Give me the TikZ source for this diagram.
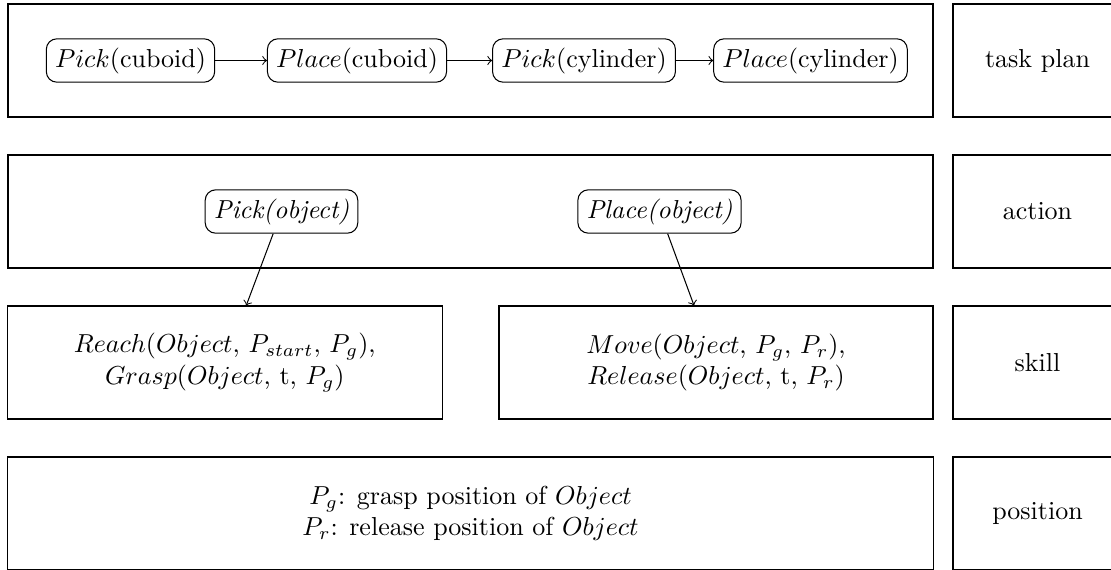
\documentclass[tikz,border=0pt]{standalone}
\usetikzlibrary{calc}
\begin{document}
\begin{tikzpicture}[x=0.3846pt,y=-0.3846pt,
  lay/.style={draw, line width=0.4pt, inner sep=0pt, align=center, minimum height={113*0.3846pt}},
  act/.style={draw, rounded corners=4pt, inner sep=3.33pt},
  >=to]
\clip (0,0) rectangle (1111,569);
% layer boxes
\node[lay, minimum width={925*0.3846pt}] (planbox) at (470.5,60.5) {};
\node[lay, minimum width={169*0.3846pt}] (planlbl) at (1037.5,60.5) {task plan};
\node[lay, minimum width={925*0.3846pt}] (actbox) at (470.5,211.5) {};
\node[lay, minimum width={169*0.3846pt}] (actlbl) at (1037.5,211.5) {action};
\node[lay, minimum width={435*0.3846pt}] (skill1) at (224.75,362.5)
  {$Reach(Object$, $P_{start}$, $P_g)$,\\ $Grasp(Object$, t, $P_g)$};
\node[lay, minimum width={434*0.3846pt}] (skill2) at (716,362.5)
  {$Move(Object$, $P_g$, $P_r)$,\\ $Release(Object$, t, $P_r)$};
\node[lay, minimum width={169*0.3846pt}] (skilllbl) at (1037.5,362.5) {skill};
\node[lay, minimum width={926*0.3846pt}] (posbox) at (470.5,513.5)
  {$P_g$: grasp position of $Object$\\ $P_r$: release position of $Object$};
\node[lay, minimum width={169*0.3846pt}] (poslbl) at (1037.5,513.5) {position};
% task plan
\node[act] (t1) at (130.5,60.5) {$Pick$(cuboid)};
\node[act] (t2) at (357,60.5) {$Place$(cuboid)};
\node[act] (t3) at (584,60.5) {$Pick$(cylinder)};
\node[act] (t4) at (810.5,60.5) {$Place$(cylinder)};
\draw[->] (t1) -- (t2);
\draw[->] (t2) -- (t3);
\draw[->] (t3) -- (t4);
% actions
\node[act] (pickobj) at (281.5,211.5) {\textit{Pick(object)}};
\node[act] (placeobj) at (659.5,211.5) {\textit{Place(object)}};
\draw[->] (pickobj) -- ($(skill1.north)+(21.5,0)$);
\draw[->] (placeobj) -- ($(skill2.north)+(-22,0)$);
\end{tikzpicture}
\end{document}
